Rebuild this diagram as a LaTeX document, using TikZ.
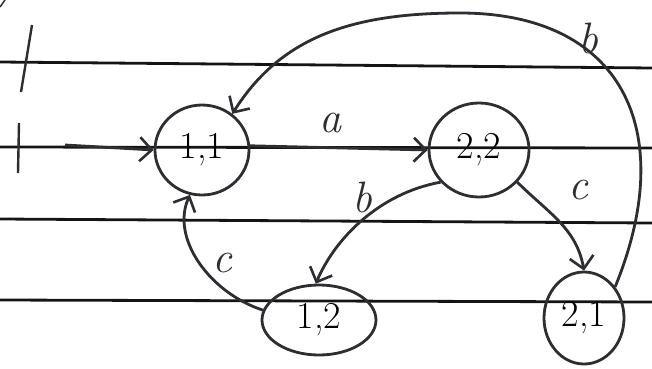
\documentclass[tikz,border=0pt]{standalone}
\usepackage{fontspec}
\usepackage{tikz}
\definecolor{inkcolor}{RGB}{45, 45, 50}
\definecolor{rulecolor}{RGB}{20, 20, 20}
\usetikzlibrary{shapes.geometric, arrows.meta, positioning, calc}

\begin{document}
\begin{tikzpicture}[
    x=1pt, y=1pt,
    state/.style={ellipse, draw=inkcolor, line width=2.8pt, inner sep=0pt, font=\fontsize{38}{38}\selectfont},
    trans/.style={-{Straight Barb[length=12pt, width=24pt, line width=2.6pt]}, line width=2.8pt, draw=inkcolor},
    lbl/.style={font=\fontsize{44}{44}\selectfont\itshape, text=inkcolor},
    rule/.style={line width=2.8pt, draw=rulecolor}
]
    \useasboundingbox (0,0) rectangle (652,368);

    % lined paper
    \draw[rule] (0,306) -- (652,300);
    \draw[rule] (0,221) -- (652,220);
    \draw[rule] (0,149) -- (652,145);
    \draw[rule] (0,68) -- (652,66);
    \draw[line width=2.4pt, inkcolor] (32,343) -- (21,276);
    \draw[line width=2.4pt, inkcolor] (19,245) -- (18,195);
    \draw[line width=1.5pt, inkcolor] (0,361) -- (5,368);

    % states
    \node[state, minimum width=94, minimum height=90] (n11) at (202,218) {1,1};
    \node[state, minimum width=100, minimum height=94] (n22) at (479,218) {2,2};
    \node[state, minimum width=114, minimum height=70] (n12) at (319,48) {1,2};
    \node[state, minimum width=80, minimum height=92] (n21) at (584,50) {2,1};
    \coordinate (start) at (65,223);

    % transitions
    \draw[trans] (start) -- (n11.west);
    \draw[trans] (n11.5) -- (n22.west);
    \draw[trans] (n21.45) .. controls (680,240) and (620,355) .. (460,355)
                 .. controls (350,355) and (280,330) .. (n11.50);
    \draw[trans] (n22.220) .. controls (380,175) and (335,130) .. (n12.95);
    \draw[trans] (n22.-40) to[out=-45, in=100] (n21.north);
    \draw[trans] (n12.170) .. controls (210,75) and (170,130) .. (n11.255);

    % labels
    \node[lbl] (la) at (330,245) {a};
    \node[lbl] (lb1) at (588,330) {b};
    \node[lbl] (lb2) at (362,171) {b};
    \node[lbl] (lc1) at (578,178) {c};
    \node[lbl] (lc2) at (222,105) {c};
\end{tikzpicture}
\end{document}
